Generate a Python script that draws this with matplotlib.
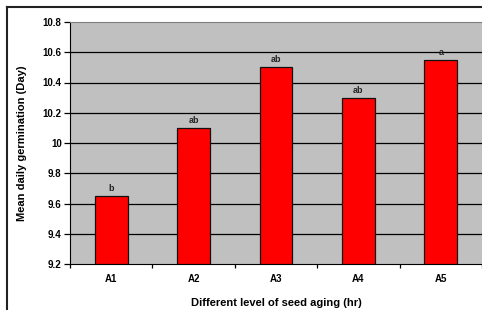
import matplotlib
matplotlib.use("Agg")
from matplotlib import pyplot as plt
from matplotlib.lines import Line2D

categories = ["A1", "A2", "A3", "A4", "A5"]
values = [9.65, 10.1, 10.5, 10.3, 10.55]
letters = ["b", "ab", "ab", "ab", "a"]
yticks = [9.2, 9.4, 9.6, 9.8, 10.0, 10.2, 10.4, 10.6, 10.8]
ytick_labels = ["9.2", "9.4", "9.6", "9.8", "10", "10.2", "10.4", "10.6", "10.8"]

plt.rcParams['font.family'] = ['Liberation Sans', 'DejaVu Sans']

W, H = 482, 310
fig = plt.figure(figsize=(W / 100, H / 100), dpi=100)
ax = fig.add_axes([70 / W, 1 - 264 / H, 1 - 70 / W, (264 - 22) / H])

# chart frame (only top and left visible in the crop)
fig.add_artist(Line2D([7 / W, 1], [1 - 7 / H, 1 - 7 / H], color="#222222", lw=1.5,
                      transform=fig.transFigure))
fig.add_artist(Line2D([7 / W, 7 / W], [0, 1 - 7 / H], color="#222222", lw=1.5,
                      transform=fig.transFigure))

ax.set_facecolor("#c0c0c0")
x = list(range(len(categories)))
ax.bar(x, [v - 9.2 for v in values], bottom=9.2, width=0.4, color="#ff0000",
       edgecolor="#111111", linewidth=0.9, zorder=3)

for xi, v, t in zip(x, values, letters):
    ax.text(xi, v + 0.02, t, ha="center", va="bottom", fontsize=6.5,
            fontweight="bold", color="#222222", zorder=4)

ax.set_xlim(-0.5, len(categories) - 0.5)
ax.set_ylim(9.2, 10.8)
ax.set_yticks(yticks)
ax.set_yticklabels(ytick_labels, fontsize=7, fontweight="bold")
for yv in yticks[1:-1]:
    ax.axhline(yv, color="black", lw=0.9, zorder=1)

# category boundaries as major ticks, labels on minor ticks
ax.set_xticks([i - 0.5 for i in range(len(categories) + 1)])
ax.set_xticklabels([])
ax.set_xticks(x, minor=True)
ax.set_xticklabels(categories, minor=True, fontsize=7, fontweight="bold")
ax.tick_params(axis="x", which="minor", length=0, pad=7)
ax.tick_params(axis="x", which="major", length=3, width=0.9, direction="out")
ax.tick_params(axis="y", length=4, width=0.9, direction="out", pad=2)

ax.spines["left"].set_color("black")
ax.spines["bottom"].set_color("black")
ax.spines["top"].set_color("#808080")
ax.spines["right"].set_visible(False)

ax.set_xlabel("Different level of seed aging (hr)", fontsize=8, fontweight="bold",
              va="center")
ax.xaxis.set_label_coords(0.5, -(303 - 264) / 242)
ax.set_ylabel("Mean daily germination (Day)", fontsize=8, fontweight="bold",
              va="center")
ax.yaxis.set_label_coords(-(70 - 22) / 412, 0.5)

fig.savefig("out.png", dpi=100)
